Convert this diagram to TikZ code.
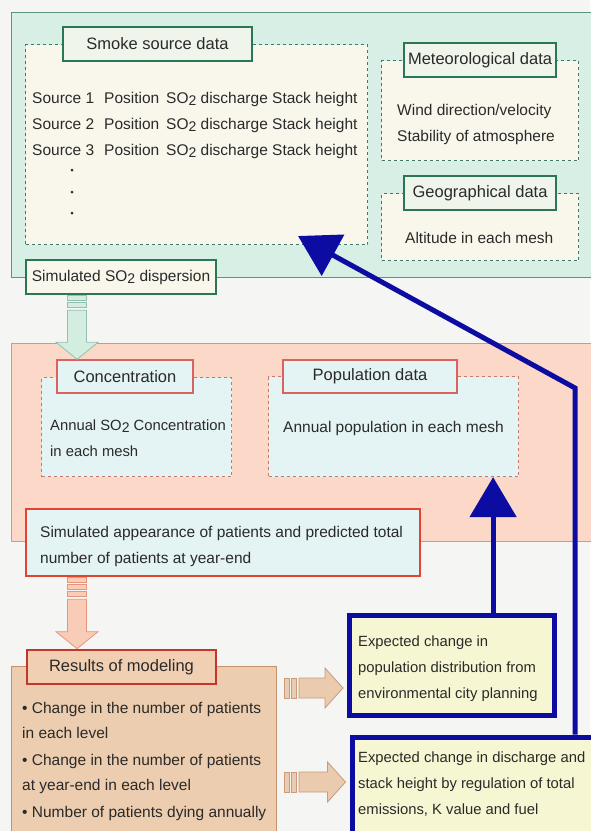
\documentclass[tikz,border=0pt]{standalone}
\usepackage{fontspec}
\setmainfont{Liberation Sans}
\usetikzlibrary{arrows.meta, positioning, calc}

\definecolor{pagebg}{HTML}{F5F5F3}
\definecolor{inkc}{HTML}{2A2A2A}
\definecolor{mintfill}{HTML}{D7EFE5}
\definecolor{mintline}{HTML}{5C9483}
\definecolor{gdark}{HTML}{2C7658}
\definecolor{gdashc}{HTML}{3D7A6A}
\definecolor{creamfill}{HTML}{F9F7EC}
\definecolor{gtitlefill}{HTML}{EFF5EB}
\definecolor{salmonfill}{HTML}{FBD8C7}
\definecolor{salmonline}{HTML}{E68F7B}
\definecolor{sdashc}{HTML}{C27A6E}
\definecolor{pinkline}{HTML}{D86462}
\definecolor{redline}{HTML}{E2452F}
\definecolor{skyfill}{HTML}{E4F3F3}
\definecolor{tanfill}{HTML}{ECCDAF}
\definecolor{tanline}{HTML}{C4916F}
\definecolor{brickline}{HTML}{C4352A}
\definecolor{tantitle}{HTML}{F1CFB2}
\definecolor{navyc}{HTML}{0C0CA2}
\definecolor{lemonfill}{HTML}{F6F6D3}
\definecolor{garrfill}{HTML}{D3EDE1}
\definecolor{garrline}{HTML}{93C1B0}
\definecolor{parrfill}{HTML}{F9CCB8}
\definecolor{parrline}{HTML}{E6957F}
\definecolor{tarrfill}{HTML}{EACBAE}
\definecolor{tarrline}{HTML}{C99A7E}

\newcommand{\SOtwo}{SO\raisebox{-0.35ex}{\fontsize{14}{14}\selectfont 2}}

% striped block arrows: start, tip, stripes, style
\newcommand{\fatdown}[4]{%
    \foreach \k in {1,...,#3}
        \path[#4] ($(#1)+(-9.5,{(\k-1)*7})$) rectangle ($(#1)+(9.5,{\k*7-1.5})$);
    \path[#4] let \p1=($(#1)+(0,{#3*7+1})$), \p2=(#2) in
        (\x1-9.5pt,\y1) -- (\x1+9.5pt,\y1) -- (\x1+9.5pt,\y2+17pt)
        -- (\x1+21pt,\y2+17pt) -- (\x2,\y2) -- (\x1-21pt,\y2+17pt)
        -- (\x1-9.5pt,\y2+17pt) -- cycle;%
}
\newcommand{\fatright}[4]{%
    \foreach \k in {1,...,#3}
        \path[#4] ($(#1)+({(\k-1)*7},-10)$) rectangle ($(#1)+({\k*7-1.5},10)$);
    \path[#4] let \p1=($(#1)+({#3*7+1},0)$), \p2=(#2) in
        (\x1,\y1+10pt) -- (\x2-18pt,\y1+10pt) -- (\x2-18pt,\y1+20pt) -- (\x2,\y1)
        -- (\x2-18pt,\y1-20pt) -- (\x2-18pt,\y1-10pt) -- (\x1,\y1-10pt) -- cycle;%
}

\begin{document}
\begin{tikzpicture}[
        x=1pt, y=-1pt,
        every node/.style={font=\fontsize{15.5}{26}\selectfont, text=inkc},
        panel/.style={draw, line width=1.2pt, anchor=north west, inner sep=0pt},
        databox/.style={draw, dash pattern=on 3pt off 3pt, line width=1.1pt, anchor=north west, inner sep=0pt},
        headbox/.style={draw, line width=1.4pt, inner sep=0pt, minimum height=34pt, font=\fontsize{16.5}{20}\selectfont},
        gtitle/.style={headbox, draw=gdark, fill=gtitlefill},
        rtitle/.style={headbox, draw=pinkline, fill=skyfill, minimum height=33pt},
        txt/.style={anchor=base west, inner sep=0pt, align=left},
        bluetxt/.style={txt, font=\fontsize{14.8}{26}\selectfont},
        planbox/.style={draw=navyc, fill=lemonfill, line width=5pt, inner sep=0pt},
        bluearr/.style={draw=navyc, line width=5pt, line join=miter, -{Triangle[length=40pt, width=46pt]}},
        garrow/.style={draw=garrline, fill=garrfill, line width=0.8pt},
        parrow/.style={draw=parrline, fill=parrfill, line width=0.8pt},
        tarrow/.style={draw=tarrline, fill=tarrfill, line width=0.8pt},
    ]

    \useasboundingbox[fill=pagebg] (0,0) rectangle (590,831);

    %% ===== Input data (green) =====
    \node[panel, draw=mintline, fill=mintfill, minimum width=600pt, minimum height=265pt] (inputs) at (11,12) {};

    \node[databox, draw=gdashc, fill=creamfill, minimum width=342pt, minimum height=200pt] (smokebox) at (25,44) {};
    \node[gtitle, minimum width=189pt] (smoketitle) at (157.5,44) {Smoke source data};
    \foreach \i/\yy in {1/103, 2/129, 3/155} {
        \node[txt] (src\i) at (32,\yy) {Source \i};
        \node[txt] (pos\i) at (104,\yy) {Position};
        \node[txt] (dis\i) at (166,\yy) {\SOtwo{} discharge Stack height};
    }
    \foreach \yy in {170, 192, 213}
        \fill[inkc] (72,\yy) circle (1.5pt);

    \node[databox, draw=gdashc, fill=creamfill, minimum width=197pt, minimum height=100pt] (metbox) at (381,60) {};
    \node[gtitle, minimum width=152pt] (mettitle) at (metbox.north) {Meteorological data};
    \node[txt] (wind) at (397,141) {Wind direction/velocity\\Stability of atmosphere};

    \node[databox, draw=gdashc, fill=creamfill, minimum width=197pt, minimum height=67pt] (geobox) at (381,193) {};
    \node[gtitle, minimum width=152pt] (geotitle) at (geobox.north) {Geographical data};
    \node[txt] (alt) at (405,243) {Altitude in each mesh};

    \node[headbox, draw=gdark, fill=creamfill, line width=2.6pt, minimum width=190pt, font=\fontsize{15.5}{20}\selectfont] (disp) at (121,277) {Simulated \SOtwo{} dispersion};

    %% ===== Exposure and patients (salmon) =====
    \node[panel, draw=salmonline, fill=salmonfill, minimum width=600pt, minimum height=198pt] (exposure) at (11,343) {};

    \node[databox, draw=sdashc, fill=skyfill, minimum width=190pt, minimum height=99pt] (concbox) at (41,377) {};
    \node[rtitle, minimum width=136pt] (conctitle) at (125,376.5) {Concentration};
    \node[txt, font=\fontsize{14.8}{26}\selectfont] (conctext) at (50,456) {Annual \SOtwo{} Concentration\\in each mesh};

    \node[databox, draw=sdashc, fill=skyfill, minimum width=250pt, minimum height=100pt] (popbox) at (268,376) {};
    \node[rtitle, minimum width=174pt] (poptitle) at (370,376.5) {Population data};
    \node[txt] (poptext) at (283,432) {Annual population in each mesh};

    \node[draw=redline, fill=skyfill, line width=2.6pt, inner sep=0pt, minimum width=394pt, minimum height=67pt] (appear) at (223,542.5) {};
    \node[txt] (appeartext) at (40,563) {Simulated appearance of patients and predicted total\\number of patients at year-end};

    %% ===== Results (tan) =====
    \node[panel, draw=tanline, fill=tanfill, minimum width=265pt, minimum height=200pt] (results) at (11,666) {};
    \node[headbox, draw=brickline, fill=tantitle, line width=2.6pt, minimum width=189pt] (restitle) at (121.5,667) {Results of modeling};
    \node[txt, font=\fontsize{15.5}{25}\selectfont] (bullets) at (22,817) {%
        • Change in the number of patients\\in each level\\[2pt]
        • Change in the number of patients\\at year-end in each level\\[2pt]
        • Number of patients dying annually};

    %% ===== Measures (blue) =====
    \node[planbox, minimum width=205pt, minimum height=100pt] (plan) at (452,665.5) {};
    \node[bluetxt] (plantext) at (358,698) {Expected change in\\population distribution from\\environmental city planning};
    \node[planbox, anchor=north west, minimum width=300pt, minimum height=140pt] (regul) at (349.5,734.5) {};
    \node[bluetxt] (regultext) at (358,814) {Expected change in discharge and\\stack height by regulation of total\\emissions, K value and fuel};

    %% Block arrows
    \coordinate (gA) at ([xshift=-44pt]disp.south);
    \coordinate (gB) at (conctitle.north -| gA);
    \fatdown{gA}{gB}{2}{garrow}
    \coordinate (pA) at ([xshift=-146pt]appear.south);
    \coordinate (pB) at (restitle.north -| pA);
    \fatdown{pA}{pB}{3}{parrow}
    \coordinate (tA) at (284,688);
    \coordinate (tB) at ([xshift=-4pt]plan.west |- tA);
    \fatright{tA}{tB}{2}{tarrow}
    \coordinate (uA) at (284,782);
    \coordinate (uB) at ([xshift=-4pt]regul.west |- uA);
    \fatright{uA}{uB}{2}{tarrow}

    %% Feedback arrows
    \coordinate (tipA) at ([xshift=-26pt]popbox.south east);
    \draw[bluearr] (plan.north -| tipA) -- (tipA);
    \coordinate (bend) at (575,388);
    \coordinate (tipB) at (298,236);
    \draw[bluearr] (regul.north -| bend) -- (bend) -- (tipB);

\end{tikzpicture}
\end{document}
